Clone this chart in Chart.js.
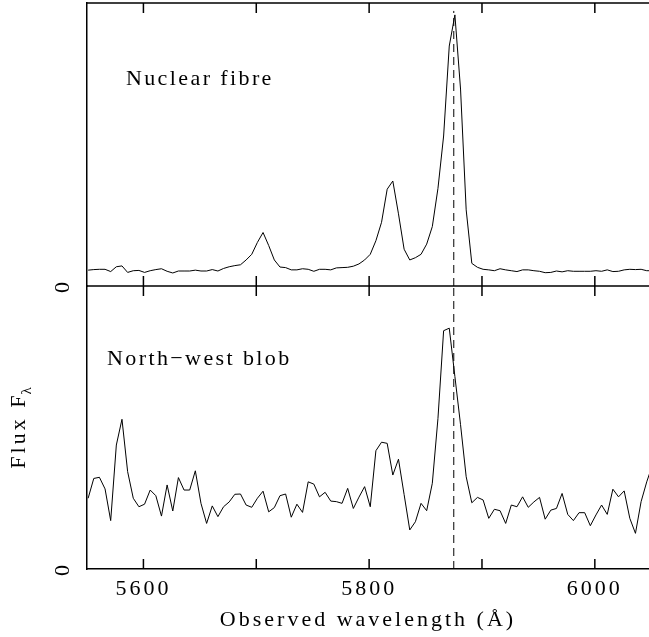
<!DOCTYPE html>
<html>
<head>
<meta charset="utf-8">
<script src="https://cdn.jsdelivr.net/npm/chart.js@4.4.1/dist/chart.umd.min.js"></script>
<style>
  html, body { margin: 0; padding: 0; background: #fff; }
  #wrap { width: 649px; height: 637px; }
</style>
</head>
<body>
<div id="wrap"><canvas id="spec" width="649" height="637"></canvas></div>
<script>
// Observed wavelength grid (Angstrom)
const wavelengths = [
  5551, 5556, 5561, 5566, 5571, 5576, 5581, 5586, 5591, 5596,
  5601, 5606, 5611, 5616, 5621, 5626, 5631, 5636, 5641, 5646,
  5651, 5656, 5661, 5666, 5671, 5676, 5681, 5686, 5691, 5696,
  5701, 5706, 5711, 5716, 5721, 5726, 5731, 5736, 5741, 5746,
  5751, 5756, 5761, 5766, 5771, 5776, 5781, 5786, 5791, 5796,
  5801, 5806, 5811, 5816, 5821, 5826, 5831, 5836, 5841, 5846,
  5851, 5856, 5861, 5866, 5871, 5876, 5881, 5886, 5891, 5896,
  5901, 5906, 5911, 5916, 5921, 5926, 5931, 5936, 5941, 5946,
  5951, 5956, 5961, 5966, 5971, 5976, 5981, 5986, 5991, 5996,
  6001, 6006, 6011, 6016, 6021, 6026, 6031, 6036, 6041, 6046,
  6051
];

// top panel: nuclear fibre (arbitrary units, panel spans 0..100)
const nuclearFlux = [
  5.6, 5.8, 5.9, 5.9, 5.1, 6.8, 7.1, 4.8, 5.4, 5.5,
  4.8, 5.4, 5.8, 6.1, 5.2, 4.6, 5.3, 5.3, 5.3, 5.6,
  5.3, 5.3, 5.8, 5.3, 6.2, 6.8, 7.2, 7.5, 9.2, 11.2,
  15.4, 18.9, 14.3, 9.2, 6.7, 6.5, 5.7, 5.7, 6.1, 5.9,
  5.2, 5.9, 5.9, 5.7, 6.4, 6.5, 6.6, 7.0, 7.8, 9.2,
  11.2, 16.0, 22.5, 34.2, 37.1, 25.5, 13.0, 9.2, 10.0, 11.2,
  14.8, 21.0, 34.5, 53.0, 84.8, 95.8, 69.6, 26.9, 8.0, 6.6,
  5.9, 5.7, 5.4, 6.1, 5.7, 5.4, 5.1, 5.7, 5.7, 5.4,
  5.2, 4.7, 4.8, 5.3, 5.0, 5.4, 5.2, 5.2, 5.2, 5.2,
  5.4, 5.2, 5.7, 5.1, 5.2, 5.7, 5.9, 5.8, 5.9, 5.4,
  5.4
];

// bottom panel: north-west blob
const blobFlux = [
  25.0, 32.0, 32.4, 28.3, 17.1, 43.8, 52.9, 34.4, 25.0, 22.0,
  22.9, 27.9, 25.9, 18.7, 29.7, 20.5, 32.3, 27.9, 27.9, 34.7,
  23.2, 16.1, 22.3, 18.5, 22.0, 23.7, 26.4, 26.5, 22.6, 21.8,
  25.0, 27.5, 20.2, 21.7, 25.9, 26.5, 18.3, 22.9, 20.0, 30.8,
  30.0, 25.5, 27.1, 24.0, 23.8, 23.2, 28.5, 21.4, 25.4, 29.1,
  22.0, 41.8, 44.8, 44.4, 33.2, 38.8, 26.3, 13.8, 16.7, 23.2,
  20.6, 30.3, 53.2, 84.2, 85.1, 68.0, 51.0, 32.6, 23.4, 25.3,
  24.4, 17.9, 21.1, 20.6, 16.1, 22.6, 22.0, 25.5, 21.8, 23.7,
  25.3, 17.6, 20.8, 21.4, 26.7, 19.3, 17.1, 19.9, 19.9, 15.3,
  19.1, 22.6, 19.3, 28.2, 25.5, 27.6, 17.9, 12.6, 23.8, 30.8,
  36.7
];

// dashed reference line (He I)
const markerWavelength = 5875;
const markerTopFlux = [0, 97.2];
const markerBlobFlux = [0, 100];

const xTickValues = [5600, 5700, 5800, 5900, 6000];
const xTickLabels = ['5600', '', '5800', '', '6000'];
const yTickValues = [0];
const yTickLabels = ['0'];
const panelLabels = ['Nuclear fibre', 'North\u2212west blob'];

const serif = "'Liberation Serif', 'DejaVu Serif', serif";
const font22 = { family: serif, size: 22 };

function toPoints(xs, ys) {
  return ys.map((y, i) => ({ x: xs[i], y: y }));
}

// frame lines, inward ticks, panel labels and y title
const framePlugin = {
  id: 'framePlugin',
  beforeDraw(chart) {
    chart.ctx.letterSpacing = '3px';
  },
  afterDraw(chart) {
    const { ctx, chartArea, scales } = chart;
    const x = scales.x, yt = scales.yTop, yb = scales.yBot;
    const mid = yt.getPixelForValue(0);
    ctx.save();
    ctx.strokeStyle = '#000';
    ctx.lineWidth = 1.5;
    ctx.beginPath();
    ctx.moveTo(chartArea.left, chartArea.top);
    ctx.lineTo(chartArea.right, chartArea.top);
    ctx.moveTo(chartArea.left, mid);
    ctx.lineTo(chartArea.right, mid);
    xTickValues.forEach(v => {
      const px = x.getPixelForValue(v);
      ctx.moveTo(px, chartArea.top);
      ctx.lineTo(px, chartArea.top + 10);
      ctx.moveTo(px, mid - 10);
      ctx.lineTo(px, mid + 10);
      ctx.moveTo(px, chartArea.bottom - 10);
      ctx.lineTo(px, chartArea.bottom);
    });
    ctx.stroke();

    ctx.fillStyle = '#000';
    ctx.letterSpacing = '2.4px';
    ctx.font = '22px ' + serif;
    ctx.textAlign = 'left';
    ctx.textBaseline = 'alphabetic';
    ctx.fillText(panelLabels[0], x.getPixelForValue(5584.5), yt.getPixelForValue(71));
    ctx.fillText(panelLabels[1], x.getPixelForValue(5567.7), yb.getPixelForValue(72.1));

    // y title: Flux F with subscript lambda, rotated
    ctx.letterSpacing = '3px';
    const w1 = ctx.measureText('Flux F').width;
    ctx.font = '15px ' + serif;
    const w2 = ctx.measureText('\u03bb').width;
    const cy = (yb.top + yb.bottom) / 2 - 2;
    ctx.translate(25, cy + (w1 + w2) / 2);
    ctx.rotate(-Math.PI / 2);
    ctx.font = '22px ' + serif;
    ctx.fillText('Flux F', 0, 0);
    ctx.font = '15px ' + serif;
    ctx.fillText('\u03bb', w1 - 2, 6);
    ctx.restore();
  }
};

function yScale() {
  return {
    type: 'linear',
    position: 'left',
    stack: 'flux',
    stackWeight: 1,
    min: 0,
    max: 100,
    grid: { display: false, drawTicks: false },
    border: { display: true, color: '#000', width: 1.5 },
    afterBuildTicks: s => { s.ticks = yTickValues.map(v => ({ value: v })); },
    afterFit: s => { s.width = 87; s.paddingTop = 0; s.paddingBottom = 0; },
    ticks: {
      color: '#000',
      font: font22,
      minRotation: 90,
      maxRotation: 90,
      crossAlign: 'center',
      padding: 18,
      callback: (v, i) => yTickLabels[i]
    }
  };
}

new Chart(document.getElementById('spec'), {
  type: 'line',
  data: {
    datasets: [
      { data: toPoints(wavelengths, nuclearFlux), yAxisID: 'yTop', borderColor: '#000', borderWidth: 1 },
      { data: toPoints(wavelengths, blobFlux), yAxisID: 'yBot', borderColor: '#000', borderWidth: 1 },
      { data: toPoints([markerWavelength, markerWavelength], markerTopFlux), yAxisID: 'yTop',
        borderColor: '#000', borderWidth: 1, borderDash: [8, 5] },
      { data: toPoints([markerWavelength, markerWavelength], markerBlobFlux), yAxisID: 'yBot',
        borderColor: '#000', borderWidth: 1, borderDash: [8, 5] }
    ]
  },
  options: {
    responsive: false,
    animation: false,
    devicePixelRatio: 1,
    layout: { padding: { top: 3, left: 0, right: 0, bottom: 0 } },
    plugins: { legend: { display: false }, tooltip: { enabled: false } },
    elements: { point: { radius: 0 }, line: { tension: 0 } },
    scales: {
      x: {
        type: 'linear',
        position: 'bottom',
        min: 5550,
        max: 6048,
        grid: { display: false, drawTicks: false },
        border: { display: true, color: '#000', width: 1.5 },
        afterBuildTicks: s => { s.ticks = xTickValues.map(v => ({ value: v })); },
        afterFit: s => { s.height = 68; s.paddingLeft = 0; s.paddingRight = 0; },
        ticks: {
          color: '#000',
          font: font22,
          padding: 7,
          maxRotation: 0,
          autoSkip: false,
          callback: (v, i) => xTickLabels[i]
        },
        title: {
          display: true,
          text: 'Observed wavelength (\u00c5)',
          color: '#000',
          font: font22,
          padding: { top: 0, bottom: 4 }
        }
      },
      yBot: yScale(),
      yTop: yScale()
    }
  },
  plugins: [framePlugin]
});
</script>
</body>
</html>
